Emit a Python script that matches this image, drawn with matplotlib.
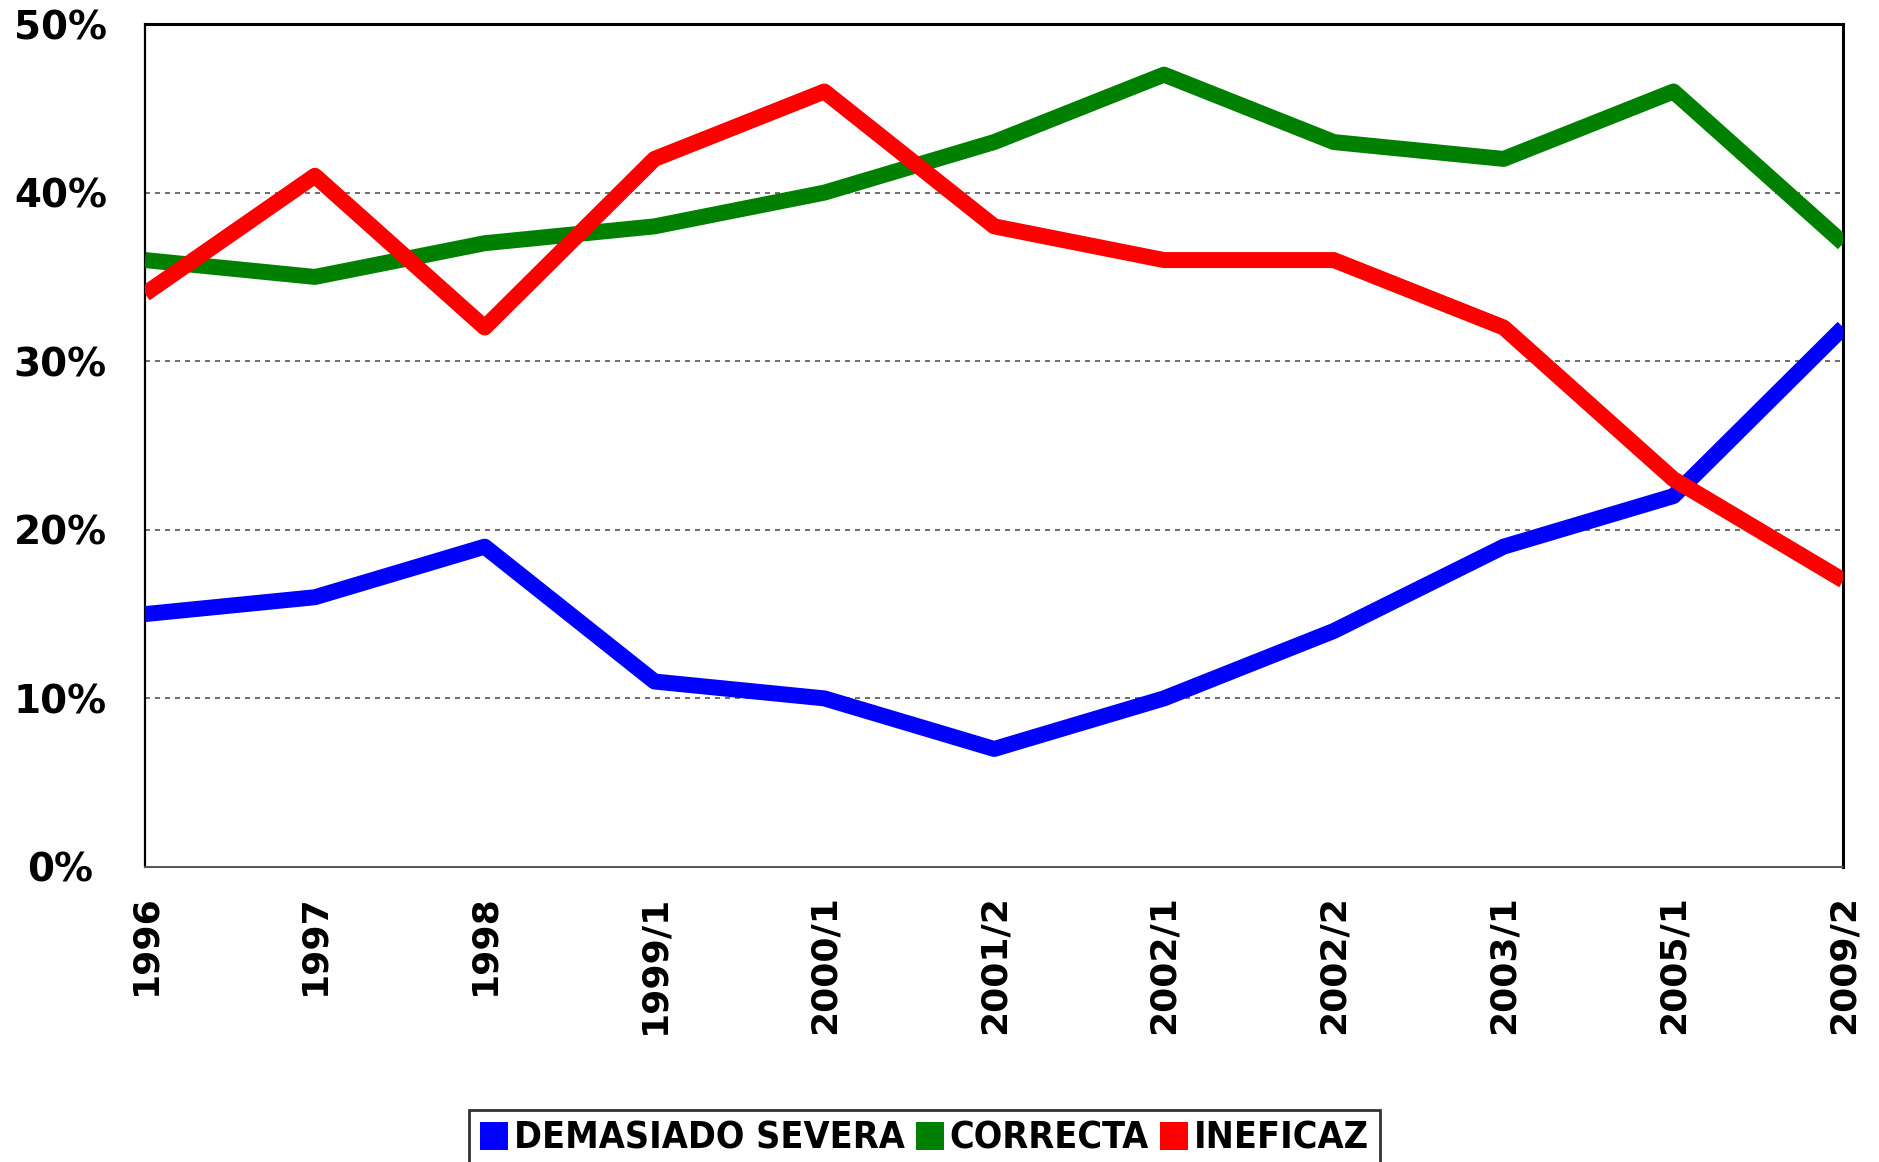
import matplotlib

matplotlib.use("Agg")

import matplotlib.pyplot as plt
from matplotlib.patches import Patch
from matplotlib.ticker import FuncFormatter

periods = ["1996", "1997", "1998", "1999/1", "2000/1", "2001/2",
           "2002/1", "2002/2", "2003/1", "2005/1", "2009/2"]
demasiado_severa = [15, 16, 19, 11, 10, 7, 10, 14, 19, 22, 32]
correcta = [36, 35, 37, 38, 40, 43, 47, 43, 42, 46, 37]
ineficaz = [34, 41, 32, 42, 46, 38, 36, 36, 32, 23, 17]

series_names = ["DEMASIADO SEVERA", "CORRECTA", "INEFICAZ"]
series_colors = ["#0000FF", "#008000", "#FF0000"]

fig = plt.figure(figsize=(18.79, 11.62), dpi=100)
ax = fig.add_axes([0.0772, 0.2539, 0.9038, 0.7254])

x = list(range(len(periods)))
for values, color in zip([demasiado_severa, correcta, ineficaz], series_colors):
    ax.plot(x, values, color=color, linewidth=11.5,
            solid_joinstyle="round", solid_capstyle="butt", zorder=3)

ax.set_xlim(0, len(periods) - 1)
ax.set_ylim(0, 50)
ax.set_yticks([0, 10, 20, 30, 40, 50])
ax.yaxis.set_major_formatter(FuncFormatter(lambda v, _: f"{v:.0f}%"))
ax.set_xticks(x)
ax.set_xticklabels(periods, rotation=90)

for y in [10, 20, 30, 40]:
    ax.axhline(y, color="#555555", linestyle=(0, (3, 3)), linewidth=1.2, zorder=1)

ax.tick_params(axis="both", length=0)
ax.tick_params(axis="y", pad=61, labelsize=28)
ax.tick_params(axis="x", pad=20, labelsize=26)
for label in ax.get_yticklabels():
    label.set_fontweight("bold")
    label.set_horizontalalignment("center")
for label in ax.get_xticklabels():
    label.set_fontweight("bold")

for side in ["top", "right"]:
    ax.spines[side].set_linewidth(2.2)
    ax.spines[side].set_color("black")
ax.spines["left"].set_linewidth(1.6)
ax.spines["left"].set_color("black")
ax.spines["bottom"].set_linewidth(1.4)
ax.spines["bottom"].set_color("#555555")
ax.spines["bottom"].set_linestyle((0, (1, 1)))

handles = [Patch(facecolor=c, edgecolor="none") for c in series_colors]
legend = fig.legend(
    handles, series_names,
    loc="upper center", bbox_to_anchor=(0.492, 0.045),
    ncol=3, frameon=True, fancybox=False,
    handlelength=0.75, handleheight=0.75, handletextpad=0.15,
    columnspacing=0.3, borderpad=0.3, borderaxespad=0.0,
    prop={"family": "DejaVu Sans", "stretch": "condensed",
          "weight": "bold", "size": 27},
)
legend.get_frame().set_edgecolor("black")
legend.get_frame().set_linewidth(2.0)

fig.savefig("out.png", dpi=100, facecolor="white")
